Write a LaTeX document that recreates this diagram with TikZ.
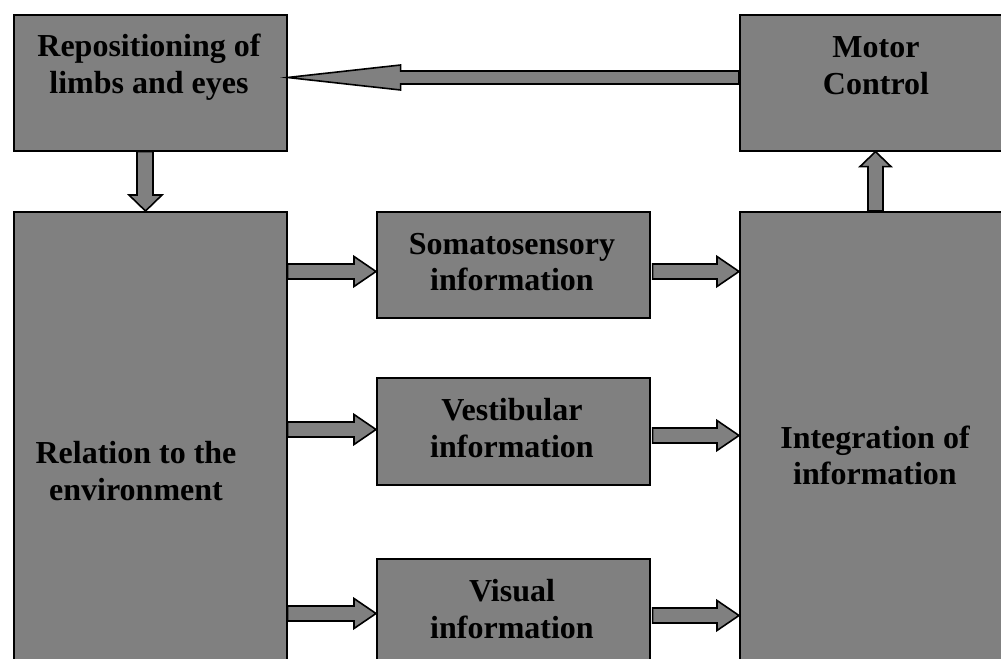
\documentclass[tikz,border=0pt]{standalone}
\usepackage{fontspec}
\setmainfont{Liberation Serif}
\usetikzlibrary{calc}

\definecolor{boxgray}{RGB}{128,128,128}
\tikzset{
  box/.style={draw,line width=1.2pt,fill=boxgray,anchor=north west,inner sep=0pt},
  lbl/.style={font=\bfseries\fontsize{24}{27.5}\selectfont,align=center},
  blockarrow/.style={draw,line width=1.2pt,fill=boxgray,line join=miter}
}

\begin{document}
\begin{tikzpicture}[x=0.75pt,y=-0.75pt]
  \useasboundingbox (0,0) rectangle (1001,659);
  \clip (0,0) rectangle (1001,659);

  % boxes
  \node[box,minimum width=204.75pt,minimum height=102pt] (repos) at (13,14) {};
  \node[box,minimum width=225pt,minimum height=102pt] (motor) at (739,14) {};
  \node[box,minimum width=204.75pt,minimum height=366.75pt] (relat) at (13,211) {};
  \node[box,minimum width=204.75pt,minimum height=79.5pt] (soma) at (376,211) {};
  \node[box,minimum width=204.75pt,minimum height=80.25pt] (vest) at (376,377) {};
  \node[box,minimum width=204.75pt,minimum height=106.5pt] (visu) at (376,558) {};
  \node[box,minimum width=225.75pt,minimum height=366.75pt] (integ) at (739,211) {};

  % labels
  \node[lbl] (reposlbl) at (149,67.5) {Repositioning of\\limbs and eyes};
  \node[lbl] (motorlbl) at (876,66) {Motor\\Control};
  \node[lbl] (relatlbl) at (136,471) {Relation to the\\environment};
  \node[lbl] (somalbl) at (512,262) {Somatosensory\\information};
  \node[lbl] (vestlbl) at (512,428) {Vestibular\\information};
  \node[lbl] (visulbl) at (512,609) {Visual\\information};
  \node[lbl] (integlbl) at (875,455.5) {Integration of\\information};

  % motor control back to repositioning
  \draw[blockarrow] (motor.west |- 0,71) -- ($(repos.east |- 0,71)+(113,0)$)
    -- ($(repos.east |- 0,65)+(113,0)$) -- (repos.east |- 0,77.5)
    -- ($(repos.east |- 0,90)+(113,0)$) -- ($(repos.east |- 0,84)+(113,0)$)
    -- (motor.west |- 0,84) -- cycle;

  % repositioning down to environment
  \draw[blockarrow] (repos.south -| 137,0) -- ($(relat.north -| 137,0)+(0,-16)$)
    -- ($(relat.north -| 129,0)+(0,-16)$) -- (relat.north -| 145.5,0)
    -- ($(relat.north -| 162,0)+(0,-16)$) -- ($(relat.north -| 153,0)+(0,-16)$)
    -- (repos.south -| 153,0) -- cycle;

  % integration up to motor control
  \draw[blockarrow] (integ.north -| 868,0) -- ($(motor.south -| 868,0)+(0,15)$)
    -- ($(motor.south -| 860,0)+(0,15)$) -- (motor.south -| 875.5,0)
    -- ($(motor.south -| 891,0)+(0,15)$) -- ($(motor.south -| 883,0)+(0,15)$)
    -- (integ.north -| 883,0) -- cycle;

  % sensory arrows
  \foreach \src/\dst/\gap/\yy in {relat/soma/0/271.5,relat/vest/0/429.5,relat/visu/0/613.5,
      soma/integ/2/271.5,vest/integ/2/435.5,visu/integ/2/615.5} {
    \draw[blockarrow] ($(\src.east |- 0,\yy)+(\gap,-7.5)$) -- ($(\dst.west |- 0,\yy)+(-22,-7.5)$)
      -- ($(\dst.west |- 0,\yy)+(-22,-15)$) -- (\dst.west |- 0,\yy)
      -- ($(\dst.west |- 0,\yy)+(-22,15)$) -- ($(\dst.west |- 0,\yy)+(-22,7.5)$)
      -- ($(\src.east |- 0,\yy)+(\gap,7.5)$) -- cycle;
  }
\end{tikzpicture}
\end{document}
